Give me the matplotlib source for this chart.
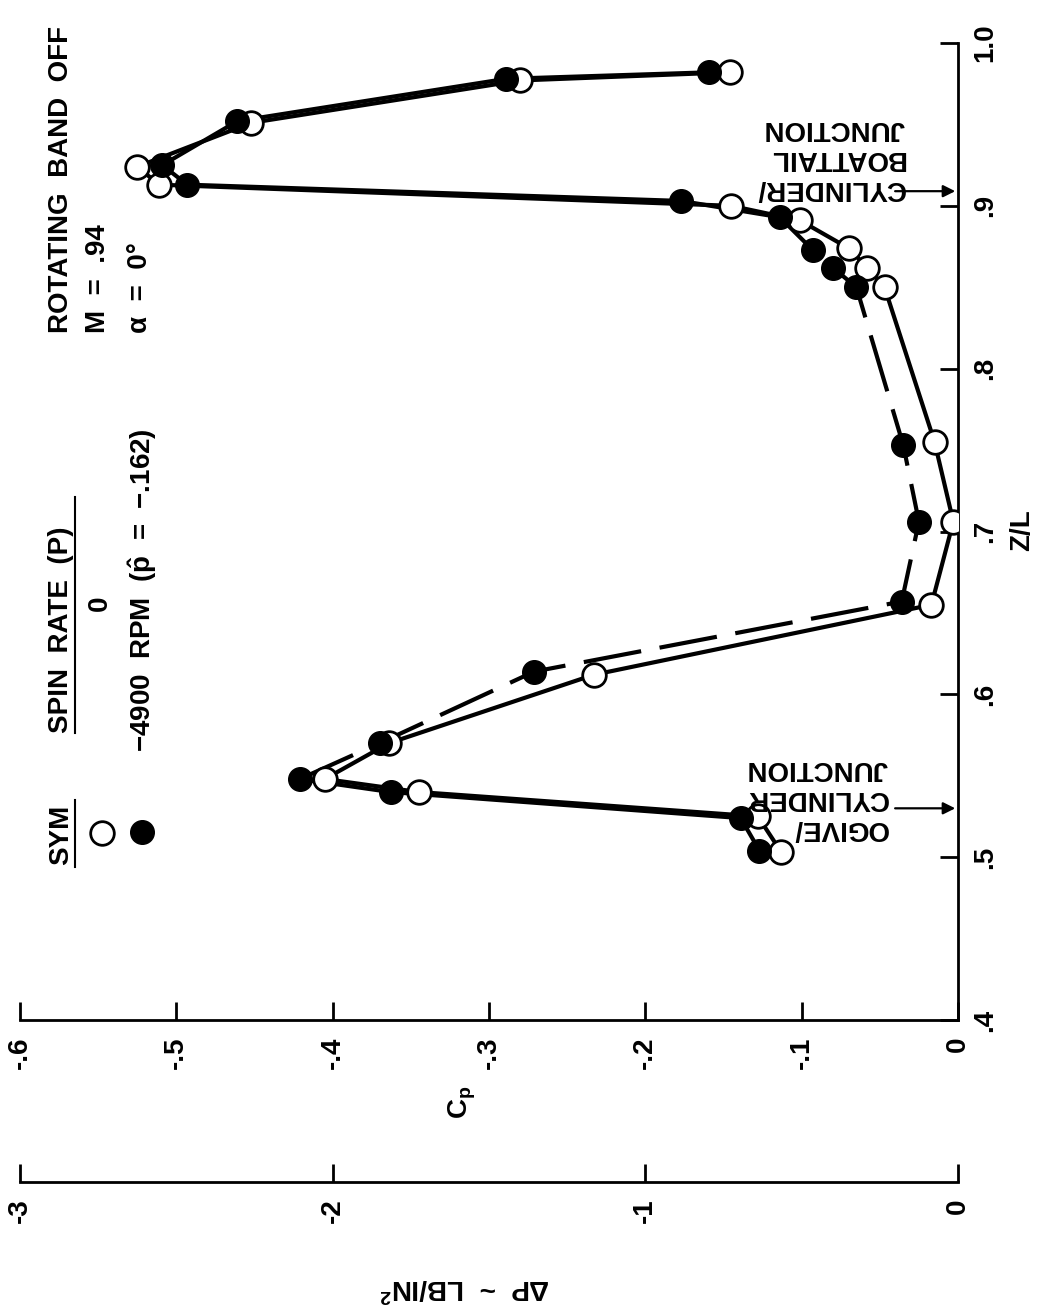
import matplotlib
matplotlib.use("Agg")
import matplotlib.pyplot as plt
from matplotlib.lines import Line2D

plt.rcParams["font.family"] = ["Liberation Sans", "DejaVu Sans"]
plt.rcParams["font.weight"] = "bold"
plt.rcParams["mathtext.default"] = "regular"

# pressure coefficient along the body, Z/L vs Cp
zl_open = [0.503, 0.525, 0.540, 0.548, 0.570, 0.612, 0.655, 0.706, 0.755, 0.850,
           0.862, 0.874, 0.891, 0.900, 0.913, 0.924, 0.951, 0.977, 0.982]
cp_open = [-0.113, -0.128, -0.345, -0.405, -0.364, -0.233, -0.017, -0.003, -0.015, -0.047,
           -0.058, -0.070, -0.101, -0.145, -0.511, -0.525, -0.452, -0.280, -0.146]

zl_fill = [0.504, 0.524, 0.540, 0.548, 0.570, 0.614, 0.657, 0.706, 0.753, 0.850,
           0.862, 0.873, 0.893, 0.903, 0.913, 0.925, 0.952, 0.978, 0.982]
cp_fill = [-0.127, -0.139, -0.363, -0.421, -0.370, -0.271, -0.036, -0.025, -0.035, -0.065,
           -0.080, -0.093, -0.114, -0.177, -0.493, -0.509, -0.461, -0.289, -0.159]

cp_ticks = [-0.6, -0.5, -0.4, -0.3, -0.2, -0.1, 0.0]
cp_labels = ["-.6", "-.5", "-.4", "-.3", "-.2", "-.1", "0"]
zl_ticks = [0.4, 0.5, 0.6, 0.7, 0.8, 0.9, 1.0]
zl_labels = [".4", ".5", ".6", ".7", ".8", ".9", "1.0"]
dp_ticks = [-3, -2, -1, 0]
dp_labels = ["-3", "-2", "-1", "0"]

ogive_junction = 0.530
boattail_junction = 0.909

W, H = 1039, 1311


def fx(x, y):
    return x / W, 1 - y / H


fig = plt.figure(figsize=(W / 100, H / 100), dpi=100)
ax = fig.add_axes([20 / W, 1 - 1020 / H, 938 / W, 977 / H])
ax.set_xlim(-0.6, 0.0)
ax.set_ylim(0.4, 1.0)

for s in ["top", "left"]:
    ax.spines[s].set_visible(False)
for s in ["bottom", "right"]:
    ax.spines[s].set_linewidth(2)

ax.yaxis.tick_right()
ax.set_xticks(cp_ticks)
ax.set_xticklabels(cp_labels, rotation=90)
ax.set_yticks(zl_ticks)
ax.set_yticklabels(zl_labels, rotation=90, va="center")
ax.tick_params(axis="both", direction="in", length=13, width=2, labelsize=20)
ax.tick_params(axis="x", pad=12)
ax.tick_params(axis="y", pad=10)

# second scale: delta P in lb/in^2
sec = ax.secondary_xaxis(-0.1658, functions=(lambda c: c * 5, lambda d: d / 5))
sec.spines["bottom"].set_linewidth(2)
sec.set_xticks(dp_ticks)
sec.set_xticklabels(dp_labels, rotation=90)
sec.tick_params(direction="in", length=13, width=2, labelsize=20, pad=12)

lw = 3
ms = 17

# open symbols: 0 rpm
ax.plot(cp_open, zl_open, color="black", lw=lw, zorder=2)
ax.plot(cp_open, zl_open, "o", ms=ms, mfc="white", mec="black", mew=2, zorder=3)

# filled symbols: -4900 rpm, dashed along the cylinder
ax.plot(cp_fill[:4], zl_fill[:4], color="black", lw=lw, zorder=2)
ax.plot(cp_fill[3:13], zl_fill[3:13], color="black", lw=lw, linestyle=(0, (14, 4.5)), zorder=2)
ax.plot(cp_fill[12:], zl_fill[12:], color="black", lw=lw, zorder=2)
ax.plot(cp_fill, zl_fill, "o", ms=ms, mfc="black", mec="black", zorder=4)

# junction arrows
for zj in [ogive_junction, boattail_junction]:
    ax.annotate("", xy=(0.0, zj), xytext=(-0.042, zj),
                arrowprops=dict(arrowstyle="-|>", lw=1.6, color="black", mutation_scale=18))

fig.text(*fx(905, 158), "CYLINDER/\nBOATTAIL\nJUNCTION", rotation=180,
         ha="right", va="center", multialignment="left", fontsize=20)
fig.text(*fx(888, 798), "OGIVE/\nCYLINDER\nJUNCTION", rotation=180,
         ha="right", va="center", multialignment="left", fontsize=20)

# conditions
fig.text(*fx(61, 333), "ROTATING  BAND  OFF", rotation=90, ha="center", va="bottom", fontsize=20)
fig.text(*fx(98, 333), "M  =  .94", rotation=90, ha="center", va="bottom", fontsize=20)
fig.text(*fx(140, 333), "α  =  0°", rotation=90, ha="center", va="bottom", fontsize=20)

# legend table
fig.text(*fx(61, 865), "SYM", rotation=90, ha="center", va="bottom", fontsize=20)
fig.text(*fx(61, 733), "SPIN  RATE  (P)", rotation=90, ha="center", va="bottom", fontsize=20)
fig.text(*fx(100, 603), "0", rotation=90, ha="center", va="center", fontsize=20)
fig.text(*fx(143, 752), r"−4900  RPM  ($\hat{p}$  =  −.162)", rotation=90,
         ha="center", va="bottom", fontsize=20)
fig.add_artist(Line2D([75 / W] * 2, [1 - 867 / H, 1 - 800 / H], color="black", lw=1.5))
fig.add_artist(Line2D([75 / W] * 2, [1 - 733 / H, 1 - 497 / H], color="black", lw=1.5))
ax.plot([102 / W], [1 - 833 / H], "o", ms=ms, mfc="white", mec="black", mew=2,
        transform=fig.transFigure, clip_on=False)
ax.plot([142 / W], [1 - 832 / H], "o", ms=ms, mfc="black", mec="black",
        transform=fig.transFigure, clip_on=False)

# axis titles
fig.text(*fx(462, 1102), r"C$_p$", rotation=90, ha="center", va="center", fontsize=20)
fig.text(*fx(1022, 530), "Z/L", rotation=90, ha="center", va="center", fontsize=20)
fig.text(*fx(465, 1287), r"ΔP  ~  LB/IN$^2$", rotation=180, ha="center", va="center", fontsize=20)

fig.savefig("out.png", dpi=100)
